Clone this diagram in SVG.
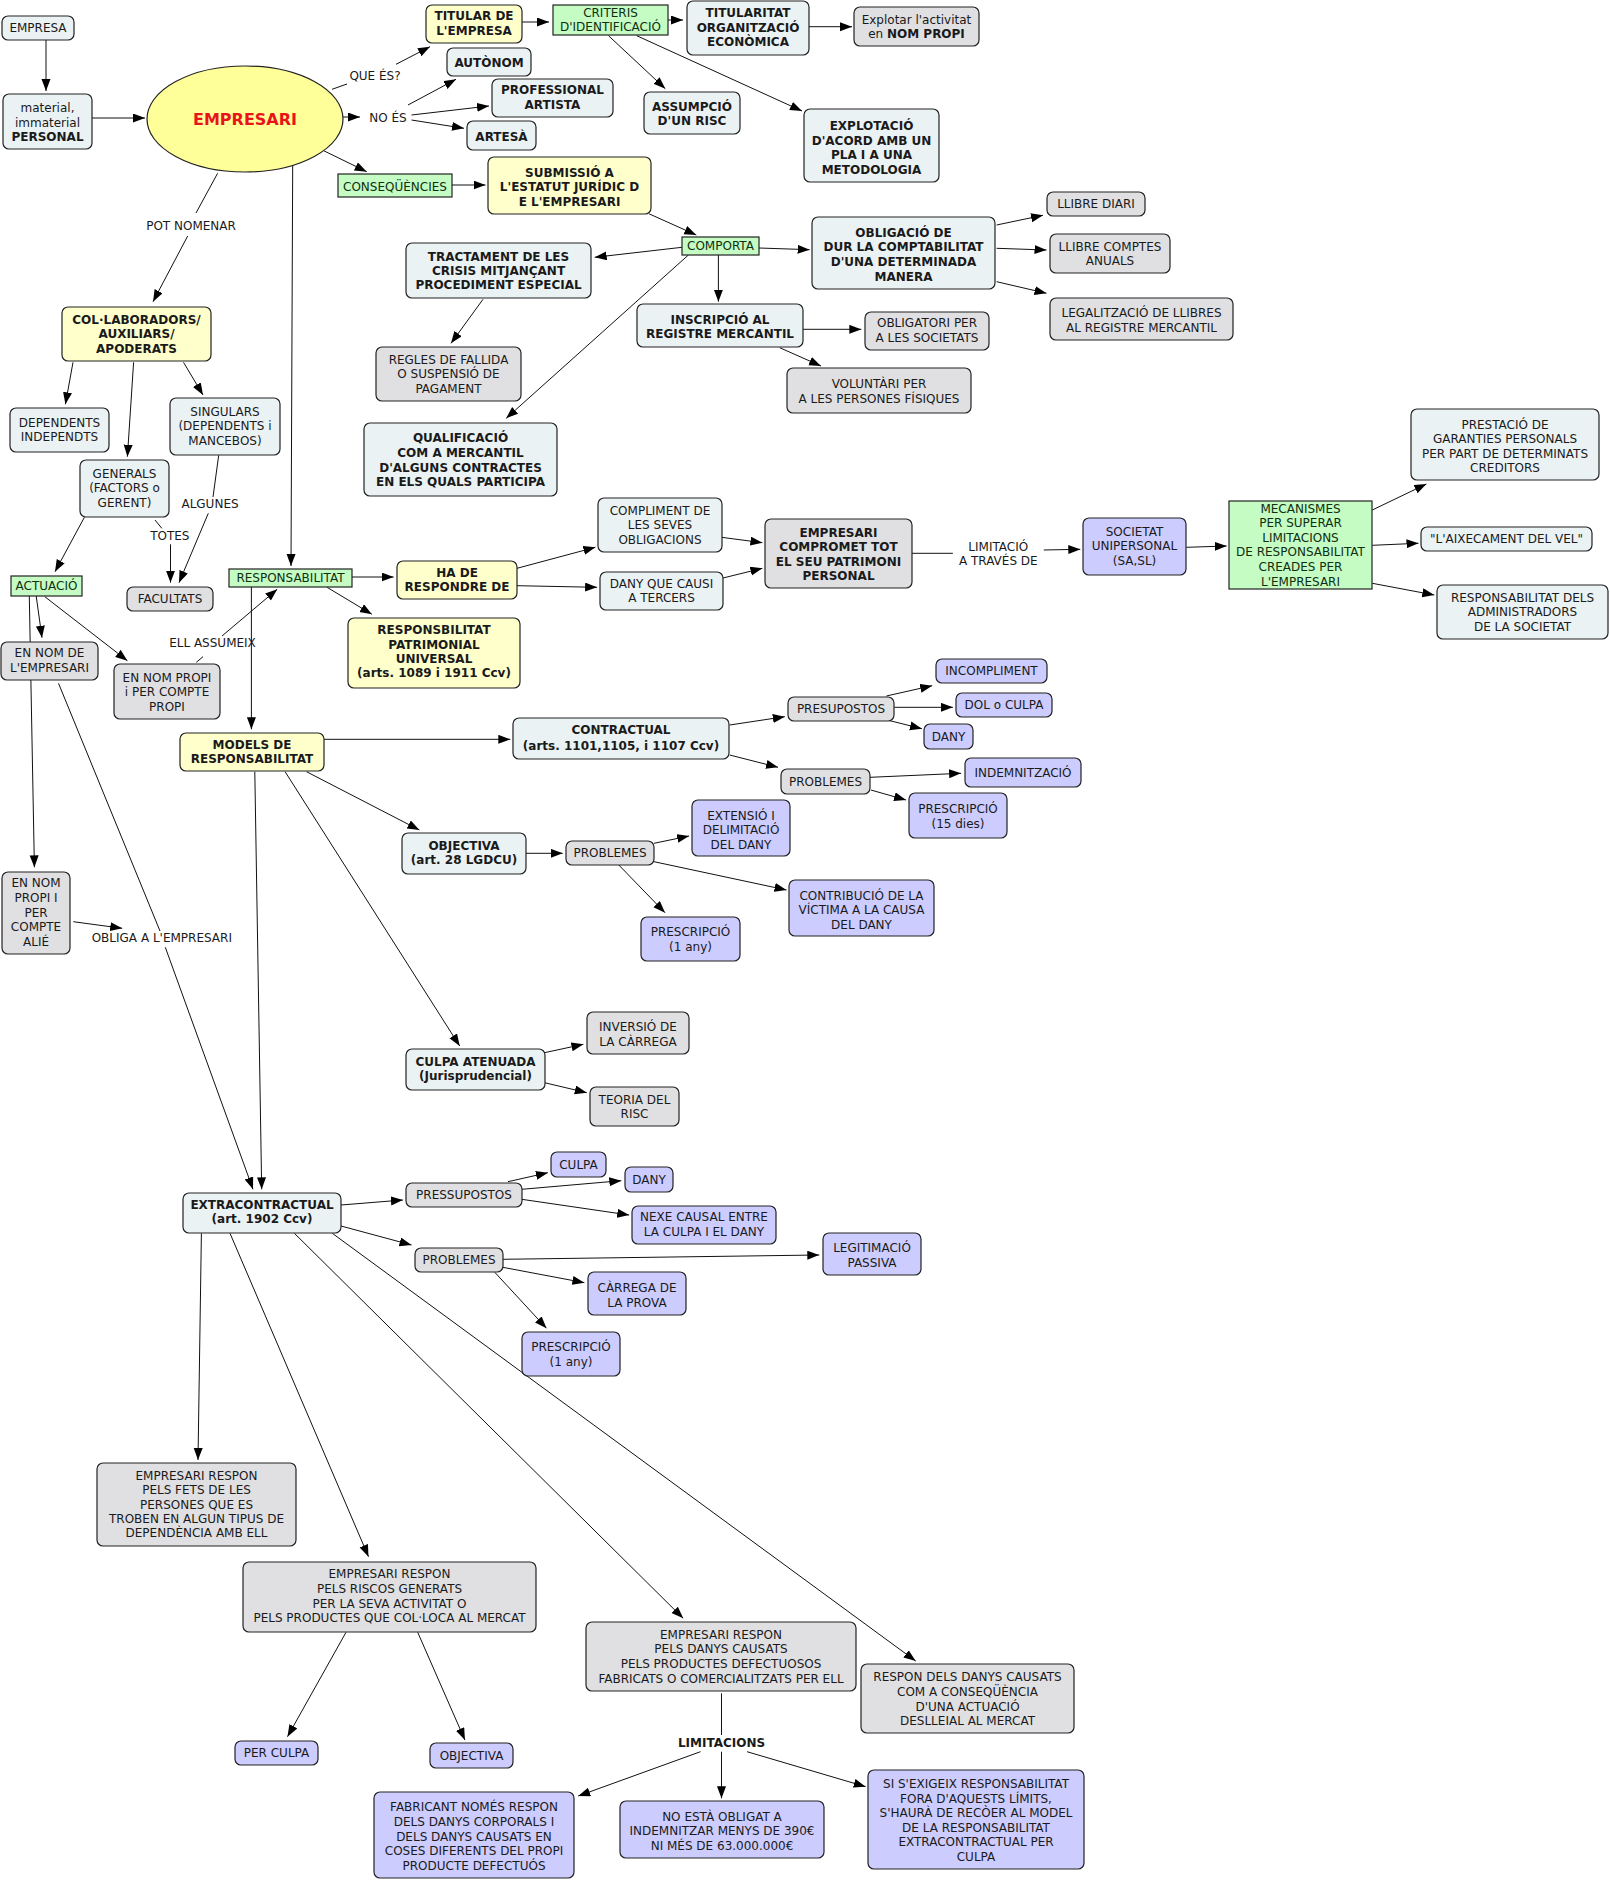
<svg xmlns="http://www.w3.org/2000/svg" width="1610" height="1880" viewBox="0 0 1610 1880">
<defs>
<marker id="ah" markerUnits="userSpaceOnUse" markerWidth="12" markerHeight="10" refX="12" refY="4.5" orient="auto"><path d="M0,0 L12,4.5 L0,9 z" fill="#000"/></marker>
<style>
text{font-family:"DejaVu Sans",Verdana,sans-serif;font-size:12px;fill:#1a1a1a;text-anchor:middle}
.b{font-weight:bold}
.nd rect{stroke:#222;stroke-width:1.2}
.n{fill:#ebf2f4}
.g{fill:#e0e0e3}
.l{fill:#ccccff}
.y{fill:#ffffcc}
.gr{fill:#c4fcc4}
.gt{fill:#0f2f0f}
#connectors line{stroke:#111;stroke-width:1}
#connectors line.a{marker-end:url(#ah)}
</style>
</defs>
<rect x="0" y="0" width="1610" height="1880" fill="#fff"/>
<g id="connectors">
<line class="a" x1="46" y1="40" x2="46" y2="91"/>
<line class="a" x1="92" y1="118" x2="145" y2="118"/>
<line x1="332" y1="89.3" x2="347" y2="84"/>
<line class="a" x1="396" y1="64.3" x2="430" y2="46.7"/>
<line class="a" x1="343" y1="117" x2="360" y2="117"/>
<line class="a" x1="408" y1="105" x2="456" y2="79.3"/>
<line class="a" x1="411.5" y1="115" x2="489" y2="106"/>
<line class="a" x1="411.5" y1="120" x2="464" y2="128.3"/>
<line class="a" x1="323.7" y1="150.7" x2="366.7" y2="171.7"/>
<line class="a" x1="452" y1="185" x2="485.5" y2="185"/>
<line class="a" x1="522" y1="22" x2="549" y2="22"/>
<line class="a" x1="668" y1="20" x2="683" y2="20"/>
<line class="a" x1="809" y1="26.7" x2="852" y2="26.7"/>
<line class="a" x1="608.5" y1="35.7" x2="665.3" y2="88.7"/>
<line class="a" x1="636.7" y1="35.7" x2="802" y2="111"/>
<line class="a" x1="648.8" y1="213.7" x2="696.3" y2="235"/>
<line class="a" x1="682" y1="247.3" x2="594.7" y2="257.3"/>
<line class="a" x1="759" y1="248" x2="809.6" y2="249.7"/>
<line class="a" x1="718.4" y1="255" x2="718.4" y2="301.7"/>
<line class="a" x1="688.4" y1="255" x2="506.2" y2="418.3"/>
<line class="a" x1="996.6" y1="225" x2="1043" y2="215.3"/>
<line class="a" x1="996.6" y1="248.3" x2="1046.5" y2="250"/>
<line class="a" x1="996.6" y1="281.7" x2="1046.5" y2="293.3"/>
<line class="a" x1="803" y1="329.3" x2="861.3" y2="329.3"/>
<line class="a" x1="779.7" y1="347.7" x2="821" y2="366"/>
<line class="a" x1="483" y1="299.3" x2="451" y2="343.3"/>
<line x1="217.6" y1="173.3" x2="196" y2="213"/>
<line class="a" x1="187.7" y1="236" x2="153" y2="301.7"/>
<line class="a" x1="73" y1="362.3" x2="65.4" y2="404.3"/>
<line class="a" x1="133.6" y1="362.3" x2="127.4" y2="456.7"/>
<line class="a" x1="183.5" y1="362.3" x2="203" y2="395"/>
<line x1="218.7" y1="455.3" x2="213" y2="497"/>
<line class="a" x1="208.3" y1="513.3" x2="179" y2="582.7"/>
<line x1="155" y1="520" x2="161.8" y2="528.3"/>
<line class="a" x1="170.5" y1="544.3" x2="170.5" y2="582.7"/>
<line class="a" x1="84.4" y1="517.3" x2="55" y2="571.7"/>
<line class="a" x1="36.2" y1="596" x2="42" y2="637.7"/>
<line class="a" x1="44.8" y1="596.7" x2="127.4" y2="660.7"/>
<line class="a" x1="29.3" y1="596" x2="34.4" y2="867.3"/>
<line class="a" x1="292.7" y1="165.3" x2="291" y2="566"/>
<line x1="196.3" y1="662.3" x2="203" y2="656.7"/>
<line class="a" x1="222" y1="636" x2="277.2" y2="589.3"/>
<line class="a" x1="352" y1="577" x2="393.6" y2="577"/>
<line class="a" x1="327.1" y1="587.3" x2="371.9" y2="614.3"/>
<line class="a" x1="251.4" y1="587" x2="251.4" y2="729.3"/>
<line class="a" x1="517" y1="568.3" x2="595.4" y2="547.3"/>
<line class="a" x1="517" y1="585.7" x2="597.1" y2="587.3"/>
<line class="a" x1="721.5" y1="537.3" x2="762.4" y2="542.7"/>
<line class="a" x1="723" y1="578" x2="762.4" y2="568.3"/>
<line x1="912" y1="553.3" x2="952.9" y2="553.3"/>
<line class="a" x1="1043.8" y1="550" x2="1080.3" y2="549.3"/>
<line class="a" x1="1186.4" y1="547.3" x2="1226.7" y2="546"/>
<line class="a" x1="1372.3" y1="510" x2="1426.4" y2="484"/>
<line class="a" x1="1372.3" y1="545.3" x2="1418.5" y2="543.3"/>
<line class="a" x1="1372.3" y1="583.3" x2="1434.3" y2="595"/>
<line class="a" x1="324" y1="739.3" x2="510.3" y2="739.3"/>
<line class="a" x1="306.5" y1="771.7" x2="419.4" y2="830"/>
<line class="a" x1="285.1" y1="771.7" x2="459.7" y2="1046"/>
<line class="a" x1="254.8" y1="771.7" x2="261.7" y2="1189.3"/>
<line class="a" x1="729.7" y1="725" x2="784.8" y2="716.7"/>
<line class="a" x1="729.7" y1="755" x2="778" y2="767.3"/>
<line class="a" x1="886.4" y1="696" x2="932.2" y2="685.7"/>
<line class="a" x1="894.3" y1="707.3" x2="952.9" y2="707.3"/>
<line class="a" x1="889.9" y1="720.7" x2="921.9" y2="728.7"/>
<line class="a" x1="870.2" y1="777.3" x2="961.1" y2="773.3"/>
<line class="a" x1="870.9" y1="790" x2="906" y2="800"/>
<line class="a" x1="526" y1="853.3" x2="562.7" y2="853.3"/>
<line class="a" x1="654" y1="843.3" x2="689.1" y2="836"/>
<line class="a" x1="654" y1="861.7" x2="786.5" y2="890"/>
<line class="a" x1="618.8" y1="865" x2="665" y2="912.7"/>
<line class="a" x1="544.5" y1="1052.7" x2="583.4" y2="1044.3"/>
<line class="a" x1="544.5" y1="1082.7" x2="586.8" y2="1092.7"/>
<line class="a" x1="73.3" y1="921.7" x2="122.2" y2="928.3"/>
<line x1="58.5" y1="683.3" x2="160" y2="931"/>
<line class="a" x1="165.3" y1="947.3" x2="253" y2="1189.3"/>
<line class="a" x1="341" y1="1205" x2="402.9" y2="1200"/>
<line class="a" x1="341" y1="1226" x2="411.5" y2="1245"/>
<line class="a" x1="508" y1="1181.7" x2="547.9" y2="1172.7"/>
<line class="a" x1="521.7" y1="1189.3" x2="621.3" y2="1180.7"/>
<line class="a" x1="521.7" y1="1199.3" x2="629.2" y2="1215"/>
<line class="a" x1="502.8" y1="1259.3" x2="819.3" y2="1255"/>
<line class="a" x1="502.8" y1="1267.3" x2="584.4" y2="1282.7"/>
<line class="a" x1="494.8" y1="1272.3" x2="546.5" y2="1328.3"/>
<line class="a" x1="201.4" y1="1233.3" x2="198" y2="1460"/>
<line class="a" x1="230" y1="1233.3" x2="368.5" y2="1556.7"/>
<line class="a" x1="294.4" y1="1233.3" x2="683.2" y2="1618.3"/>
<line class="a" x1="332.3" y1="1233.3" x2="915.7" y2="1661"/>
<line class="a" x1="346" y1="1632.3" x2="287.5" y2="1736.7"/>
<line class="a" x1="417.7" y1="1632.3" x2="464.9" y2="1740"/>
<line x1="721.5" y1="1693.3" x2="721.5" y2="1735"/>
<line class="a" x1="700.5" y1="1751.7" x2="578.2" y2="1796"/>
<line class="a" x1="721.5" y1="1751.7" x2="721.5" y2="1798.3"/>
<line class="a" x1="747" y1="1751.7" x2="865.7" y2="1786.7"/>
</g>
<g id="labels">
<text x="375" y="79.7">QUE ÉS?</text>
<text x="388" y="121.7">NO ÉS</text>
<text x="191" y="229.7">POT NOMENAR</text>
<text x="210" y="508.3">ALGUNES</text>
<text x="169.8" y="539.7">TOTES</text>
<text x="212.5" y="647.3">ELL ASSUMEIX</text>
<text x="161.8" y="942.3">OBLIGA A L'EMPRESARI</text>
<text x="998.3"><tspan x="998.3" y="550.7">LIMITACIÓ</tspan><tspan x="998.3" y="565">A TRAVÉS DE</tspan></text>
<text class="b" x="721.5" y="1746.7">LIMITACIONS</text>
</g>
<g class="nd">
<g id="empresa"><rect class="n" x="2" y="16" width="72" height="24" rx="6"/><text x="38" y="32">EMPRESA</text></g>
<g id="material"><rect class="n" x="3" y="94" width="89" height="55" rx="6"/><text><tspan x="47.5" y="112.3">material,</tspan><tspan x="47.5" y="126.7">immaterial</tspan><tspan class="b" x="47.5" y="141">PERSONAL</tspan></text></g>
<g id="empresari"><ellipse cx="245" cy="119" rx="98" ry="53" fill="#ffff99" stroke="#222" stroke-width="1.2"/><text class="b" x="245" y="125" style="font-size:16px;fill:#e8141a">EMPRESARI</text></g>
<g id="titular"><rect class="y" x="426" y="5" width="96" height="38" rx="6"/><text class="b"><tspan x="474" y="20.3">TITULAR DE</tspan><tspan x="474" y="35">L'EMPRESA</tspan></text></g>
<g id="autonom"><rect class="n" x="447" y="48" width="84" height="28" rx="6"/><text class="b" x="489" y="67.3">AUTÒNOM</text></g>
<g id="professional"><rect class="n" x="492" y="79" width="121" height="38" rx="6"/><text class="b"><tspan x="552.5" y="94.3">PROFESSIONAL</tspan><tspan x="552.5" y="109">ARTISTA</tspan></text></g>
<g id="artesa"><rect class="n" x="467" y="121" width="69" height="29" rx="6"/><text class="b" x="501.5" y="141.3">ARTESÀ</text></g>
<g id="consequencies"><rect class="gr" x="338" y="174" width="114" height="23"/><text class="gt" x="395" y="190.7">CONSEQÜÈNCIES</text></g>
<g id="submissio"><rect class="y" x="488" y="157" width="163" height="57" rx="6"/><text class="b"><tspan x="569.5" y="176.7">SUBMISSIÓ A</tspan><tspan x="569.5" y="191.3">L'ESTATUT JURÍDIC D</tspan><tspan x="569.5" y="205.7">E L'EMPRESARI</tspan></text></g>
<g id="col"><rect class="y" x="62" y="307" width="149" height="54" rx="6"/><text class="b"><tspan x="136.5" y="324">COL·LABORADORS/</tspan><tspan x="136.5" y="338.3">AUXILIARS/</tspan><tspan x="136.5" y="352.7">APODERATS</tspan></text></g>
<g id="dependents"><rect class="n" x="10" y="408" width="99" height="44" rx="6"/><text><tspan x="59.5" y="426.7">DEPENDENTS</tspan><tspan x="59.5" y="441">INDEPENDTS</tspan></text></g>
<g id="singulars"><rect class="n" x="170" y="398" width="110" height="57" rx="6"/><text><tspan x="225" y="415.7">SINGULARS</tspan><tspan x="225" y="430">(DEPENDENTS i</tspan><tspan x="225" y="444.7">MANCEBOS)</tspan></text></g>
<g id="tractament"><rect class="n" x="406" y="243" width="185" height="55" rx="6"/><text class="b"><tspan x="498.5" y="260.7">TRACTAMENT DE LES</tspan><tspan x="498.5" y="275">CRISIS MITJANÇANT</tspan><tspan x="498.5" y="289.3">PROCEDIMENT ESPECIAL</tspan></text></g>
<g id="regles"><rect class="g" x="376" y="347" width="145" height="54" rx="6"/><text><tspan x="448.5" y="363.7">REGLES DE FALLIDA</tspan><tspan x="448.5" y="378">O SUSPENSIÓ DE</tspan><tspan x="448.5" y="392.7">PAGAMENT</tspan></text></g>
<g id="qualificacio"><rect class="n" x="364" y="423" width="193" height="73" rx="6"/><text class="b"><tspan x="460.5" y="442.3">QUALIFICACIÓ</tspan><tspan x="460.5" y="457">COM A MERCANTIL</tspan><tspan x="460.5" y="471.7">D'ALGUNS CONTRACTES</tspan><tspan x="460.5" y="486.4">EN ELS QUALS PARTICIPA</tspan></text></g>
<g id="criteris"><rect class="gr" x="553" y="5" width="115" height="30"/><text class="gt"><tspan x="610.5" y="16.7">CRITERIS</tspan><tspan x="610.5" y="30.7">D'IDENTIFICACIÓ</tspan></text></g>
<g id="titularitat"><rect class="n" x="687" y="1" width="122" height="54" rx="6"/><text class="b"><tspan x="748" y="17.3">TITULARITAT</tspan><tspan x="748" y="31.7">ORGANITZACIÓ</tspan><tspan x="748" y="46.3">ECONÒMICA</tspan></text></g>
<g id="explotar"><rect class="g" x="854" y="7" width="125" height="39" rx="6"/><text><tspan x="916.5" y="24">Explotar l'activitat</tspan><tspan x="916.5" y="38.3">en <tspan class="b">NOM PROPI</tspan></tspan></text></g>
<g id="assumpcio"><rect class="n" x="644" y="92" width="96" height="42" rx="6"/><text class="b"><tspan x="692" y="110.7">ASSUMPCIÓ</tspan><tspan x="692" y="125.3">D'UN RISC</tspan></text></g>
<g id="explotacio"><rect class="n" x="804" y="109" width="135" height="73" rx="6"/><text class="b"><tspan x="871.5" y="130">EXPLOTACIÓ</tspan><tspan x="871.5" y="144.7">D'ACORD AMB UN</tspan><tspan x="871.5" y="159.3">PLA I A UNA</tspan><tspan x="871.5" y="174">METODOLOGIA</tspan></text></g>
<g id="comporta"><rect class="gr" x="682" y="237" width="77" height="18"/><text class="gt" x="720.5" y="250">COMPORTA</text></g>
<g id="obligacio"><rect class="n" x="812" y="217" width="183" height="72" rx="6"/><text class="b"><tspan x="903.5" y="236.7">OBLIGACIÓ DE</tspan><tspan x="903.5" y="251.3">DUR LA COMPTABILITAT</tspan><tspan x="903.5" y="266">D'UNA DETERMINADA</tspan><tspan x="903.5" y="281">MANERA</tspan></text></g>
<g id="llibre-diari"><rect class="g" x="1047" y="192" width="98" height="24" rx="6"/><text x="1096" y="208">LLIBRE DIARI</text></g>
<g id="llibre-comptes"><rect class="g" x="1050" y="234" width="120" height="39" rx="6"/><text><tspan x="1110" y="250.7">LLIBRE COMPTES</tspan><tspan x="1110" y="265">ANUALS</tspan></text></g>
<g id="legalitzacio"><rect class="g" x="1050" y="298" width="183" height="42" rx="6"/><text><tspan x="1141.5" y="317.3">LEGALITZACIÓ DE LLIBRES</tspan><tspan x="1141.5" y="332.3">AL REGISTRE MERCANTIL</tspan></text></g>
<g id="inscripcio"><rect class="n" x="637" y="304" width="166" height="43" rx="6"/><text class="b"><tspan x="720" y="324">INSCRIPCIÓ AL</tspan><tspan x="720" y="338.3">REGISTRE MERCANTIL</tspan></text></g>
<g id="obligatori"><rect class="g" x="865" y="312" width="124" height="38" rx="6"/><text><tspan x="927" y="327.3">OBLIGATORI PER</tspan><tspan x="927" y="342.3">A LES SOCIETATS</tspan></text></g>
<g id="voluntari"><rect class="g" x="787" y="368" width="184" height="45" rx="6"/><text><tspan x="879" y="388.3">VOLUNTÀRI PER</tspan><tspan x="879" y="403">A LES PERSONES FÍSIQUES</tspan></text></g>
<g id="prestacio"><rect class="n" x="1411" y="409" width="188" height="71" rx="6"/><text><tspan x="1505" y="429">PRESTACIÓ DE</tspan><tspan x="1505" y="443.3">GARANTIES PERSONALS</tspan><tspan x="1505" y="457.7">PER PART DE DETERMINATS</tspan><tspan x="1505" y="472">CREDITORS</tspan></text></g>
<g id="generals"><rect class="n" x="80" y="460" width="89" height="57" rx="6"/><text><tspan x="124.5" y="478">GENERALS</tspan><tspan x="124.5" y="492.3">(FACTORS o</tspan><tspan x="124.5" y="506.7">GERENT)</tspan></text></g>
<g id="facultats"><rect class="g" x="127" y="587" width="86" height="24" rx="6"/><text x="170" y="603">FACULTATS</text></g>
<g id="actuacio"><rect class="gr" x="11" y="576" width="71" height="20"/><text class="gt" x="46.5" y="590">ACTUACIÓ</text></g>
<g id="nom-empresari"><rect class="g" x="1" y="642" width="97" height="38" rx="6"/><text><tspan x="49.5" y="657.3">EN NOM DE</tspan><tspan x="49.5" y="672.3">L'EMPRESARI</tspan></text></g>
<g id="nom-propi"><rect class="g" x="114" y="664" width="106" height="55" rx="6"/><text><tspan x="167" y="681.7">EN NOM PROPI</tspan><tspan x="167" y="696.3">i PER COMPTE</tspan><tspan x="167" y="711">PROPI</tspan></text></g>
<g id="responsabilitat"><rect class="gr" x="229" y="569" width="123" height="18"/><text class="gt" x="290.5" y="582">RESPONSABILITAT</text></g>
<g id="ha-de-respondre"><rect class="y" x="397" y="561" width="120" height="38" rx="6"/><text class="b"><tspan x="457" y="576.7">HA DE</tspan><tspan x="457" y="591">RESPONDRE DE</tspan></text></g>
<g id="patrimonial"><rect class="y" x="348" y="618" width="172" height="70" rx="6"/><text class="b"><tspan x="434" y="634">RESPONSBILITAT</tspan><tspan x="434" y="648.7">PATRIMONIAL</tspan><tspan x="434" y="663">UNIVERSAL</tspan><tspan x="434" y="677.3">(arts. 1089 i 1911 Ccv)</tspan></text></g>
<g id="models"><rect class="y" x="180" y="733" width="144" height="38" rx="6"/><text class="b"><tspan x="252" y="749">MODELS DE</tspan><tspan x="252" y="763.3">RESPONSABILITAT</tspan></text></g>
<g id="objectiva"><rect class="n" x="402" y="833" width="124" height="41" rx="6"/><text class="b"><tspan x="464" y="850">OBJECTIVA</tspan><tspan x="464" y="864">(art. 28 LGDCU)</tspan></text></g>
<g id="nom-alie"><rect class="g" x="2" y="872" width="68" height="82" rx="6"/><text><tspan x="36" y="887.3">EN NOM</tspan><tspan x="36" y="902">PROPI I</tspan><tspan x="36" y="916.7">PER</tspan><tspan x="36" y="931.3">COMPTE</tspan><tspan x="36" y="945.7">ALIÉ</tspan></text></g>
<g id="compliment"><rect class="n" x="598" y="498" width="124" height="54" rx="6"/><text><tspan x="660" y="514.7">COMPLIMENT DE</tspan><tspan x="660" y="529">LES SEVES</tspan><tspan x="660" y="543.7">OBLIGACIONS</tspan></text></g>
<g id="dany-tercers"><rect class="n" x="600" y="572" width="123" height="38" rx="6"/><text><tspan x="661.5" y="588">DANY QUE CAUSI</tspan><tspan x="661.5" y="602">A TERCERS</tspan></text></g>
<g id="compromet"><rect class="g" x="765" y="519" width="147" height="69" rx="6"/><text class="b"><tspan x="838.5" y="536.7">EMPRESARI</tspan><tspan x="838.5" y="551">COMPROMET TOT</tspan><tspan x="838.5" y="565.7">EL SEU PATRIMONI</tspan><tspan x="838.5" y="580">PERSONAL</tspan></text></g>
<g id="societat"><rect class="l" x="1083" y="518" width="103" height="57" rx="6"/><text><tspan x="1134.5" y="535.7">SOCIETAT</tspan><tspan x="1134.5" y="550.3">UNIPERSONAL</tspan><tspan x="1134.5" y="565">(SA,SL)</tspan></text></g>
<g id="mecanismes"><rect class="gr" x="1229" y="501" width="143" height="88"/><text class="gt"><tspan x="1300.5" y="512.7">MECANISMES</tspan><tspan x="1300.5" y="527">PER SUPERAR</tspan><tspan x="1300.5" y="541.7">LIMITACIONS</tspan><tspan x="1300.5" y="556.3">DE RESPONSABILITAT</tspan><tspan x="1300.5" y="571">CREADES PER</tspan><tspan x="1300.5" y="585.7">L'EMPRESARI</tspan></text></g>
<g id="aixecament"><rect class="n" x="1421" y="527" width="171" height="24" rx="6"/><text x="1506.5" y="543">"L'AIXECAMENT DEL VEL"</text></g>
<g id="administradors"><rect class="n" x="1437" y="585" width="171" height="54" rx="6"/><text><tspan x="1522.5" y="601.7">RESPONSABILITAT DELS</tspan><tspan x="1522.5" y="616">ADMINISTRADORS</tspan><tspan x="1522.5" y="630.7">DE LA SOCIETAT</tspan></text></g>
<g id="contractual"><rect class="n" x="513" y="718" width="216" height="41" rx="6"/><text class="b"><tspan x="621" y="734">CONTRACTUAL</tspan><tspan x="621" y="749.7">(arts. 1101,1105, i 1107 Ccv)</tspan></text></g>
<g id="presupostos"><rect class="g" x="788" y="697" width="106" height="24" rx="6"/><text x="841" y="713">PRESUPOSTOS</text></g>
<g id="incompliment"><rect class="l" x="936" y="659" width="111" height="24" rx="6"/><text x="991.5" y="675">INCOMPLIMENT</text></g>
<g id="dol"><rect class="l" x="956" y="693" width="96" height="24" rx="6"/><text x="1004" y="709">DOL o CULPA</text></g>
<g id="dany-c"><rect class="l" x="924" y="724" width="49" height="25" rx="6"/><text x="948.5" y="741">DANY</text></g>
<g id="problemes-c"><rect class="g" x="781" y="769" width="89" height="25" rx="6"/><text x="825.5" y="785.7">PROBLEMES</text></g>
<g id="indemnitzacio"><rect class="l" x="965" y="758" width="116" height="29" rx="6"/><text x="1023" y="777.3">INDEMNITZACIÓ</text></g>
<g id="prescripcio-c"><rect class="l" x="909" y="793" width="98" height="45" rx="6"/><text><tspan x="958" y="813.3">PRESCRIPCIÓ</tspan><tspan x="958" y="828">(15 dies)</tspan></text></g>
<g id="problemes-o"><rect class="g" x="566" y="841" width="88" height="24" rx="6"/><text x="610" y="857">PROBLEMES</text></g>
<g id="extensio"><rect class="l" x="692" y="800" width="98" height="56" rx="6"/><text><tspan x="741" y="820">EXTENSIÓ I</tspan><tspan x="741" y="834.3">DELIMITACIÓ</tspan><tspan x="741" y="849">DEL DANY</tspan></text></g>
<g id="contribucio"><rect class="l" x="789" y="880" width="145" height="56" rx="6"/><text><tspan x="861.5" y="899.7">CONTRIBUCIÓ DE LA</tspan><tspan x="861.5" y="914">VÍCTIMA A LA CAUSA</tspan><tspan x="861.5" y="929">DEL DANY</tspan></text></g>
<g id="prescripcio-o"><rect class="l" x="641" y="917" width="99" height="44" rx="6"/><text><tspan x="690.5" y="935.7">PRESCRIPCIÓ</tspan><tspan x="690.5" y="950.7">(1 any)</tspan></text></g>
<g id="culpa-atenuada"><rect class="n" x="406" y="1049" width="139" height="41" rx="6"/><text class="b"><tspan x="475.5" y="1065.7">CULPA ATENUADA</tspan><tspan x="475.5" y="1080">(Jurisprudencial)</tspan></text></g>
<g id="inversio"><rect class="g" x="587" y="1012" width="102" height="42" rx="6"/><text><tspan x="638" y="1031.3">INVERSIÓ DE</tspan><tspan x="638" y="1046">LA CÀRREGA</tspan></text></g>
<g id="teoria"><rect class="g" x="590" y="1087" width="89" height="39" rx="6"/><text><tspan x="634.5" y="1104">TEORIA DEL</tspan><tspan x="634.5" y="1118">RISC</tspan></text></g>
<g id="extracontractual"><rect class="n" x="183" y="1193" width="158" height="40" rx="6"/><text class="b"><tspan x="262" y="1209">EXTRACONTRACTUAL</tspan><tspan x="262" y="1223.3">(art. 1902 Ccv)</tspan></text></g>
<g id="pressupostos"><rect class="g" x="406" y="1183" width="116" height="24" rx="6"/><text x="464" y="1199">PRESSUPOSTOS</text></g>
<g id="culpa"><rect class="l" x="551" y="1152" width="55" height="25" rx="6"/><text x="578.5" y="1168.5">CULPA</text></g>
<g id="dany-e"><rect class="l" x="625" y="1167" width="48" height="25" rx="6"/><text x="649" y="1183.5">DANY</text></g>
<g id="nexe"><rect class="l" x="632" y="1206" width="144" height="38" rx="6"/><text><tspan x="704" y="1221.3">NEXE CAUSAL ENTRE</tspan><tspan x="704" y="1236.3">LA CULPA I EL DANY</tspan></text></g>
<g id="problemes-e"><rect class="g" x="415" y="1248" width="88" height="24" rx="6"/><text x="459" y="1264">PROBLEMES</text></g>
<g id="legitimacio"><rect class="l" x="823" y="1233" width="98" height="42" rx="6"/><text><tspan x="872" y="1252.3">LEGITIMACIÓ</tspan><tspan x="872" y="1266.7">PASSIVA</tspan></text></g>
<g id="carrega"><rect class="l" x="588" y="1272" width="98" height="43" rx="6"/><text><tspan x="637" y="1292.3">CÀRREGA DE</tspan><tspan x="637" y="1306.7">LA PROVA</tspan></text></g>
<g id="prescripcio-e"><rect class="l" x="522" y="1332" width="98" height="44" rx="6"/><text><tspan x="571" y="1351.3">PRESCRIPCIÓ</tspan><tspan x="571" y="1366.3">(1 any)</tspan></text></g>
<g id="fets"><rect class="g" x="97" y="1463" width="199" height="83" rx="6"/><text><tspan x="196.5" y="1480">EMPRESARI RESPON</tspan><tspan x="196.5" y="1494.3">PELS FETS DE LES</tspan><tspan x="196.5" y="1508.7">PERSONES QUE ES</tspan><tspan x="196.5" y="1523">TROBEN EN ALGUN TIPUS DE</tspan><tspan x="196.5" y="1537.3">DEPENDÈNCIA AMB ELL</tspan></text></g>
<g id="riscos"><rect class="g" x="243" y="1562" width="293" height="70" rx="6"/><text><tspan x="389.5" y="1578.3">EMPRESARI RESPON</tspan><tspan x="389.5" y="1593">PELS RISCOS GENERATS</tspan><tspan x="389.5" y="1607.7">PER LA SEVA ACTIVITAT O</tspan><tspan x="389.5" y="1622.3">PELS PRODUCTES QUE COL·LOCA AL MERCAT</tspan></text></g>
<g id="per-culpa"><rect class="l" x="235" y="1741" width="83" height="24" rx="6"/><text x="276.5" y="1757">PER CULPA</text></g>
<g id="objectiva-b"><rect class="l" x="430" y="1743" width="83" height="25" rx="6"/><text x="471.5" y="1760">OBJECTIVA</text></g>
<g id="fabricant"><rect class="l" x="374" y="1792" width="200" height="86" rx="6"/><text><tspan x="474" y="1811.3">FABRICANT NOMÉS RESPON</tspan><tspan x="474" y="1826">DELS DANYS CORPORALS I</tspan><tspan x="474" y="1840.7">DELS DANYS CAUSATS EN</tspan><tspan x="474" y="1855.3">COSES DIFERENTS DEL PROPI</tspan><tspan x="474" y="1869.7">PRODUCTE DEFECTUÓS</tspan></text></g>
<g id="danys-productes"><rect class="g" x="586" y="1622" width="270" height="69" rx="6"/><text><tspan x="721" y="1639">EMPRESARI RESPON</tspan><tspan x="721" y="1653.3">PELS DANYS CAUSATS</tspan><tspan x="721" y="1668.3">PELS PRODUCTES DEFECTUOSOS</tspan><tspan x="721" y="1682.7">FABRICATS O COMERCIALITZATS PER ELL</tspan></text></g>
<g id="deslleial"><rect class="g" x="861" y="1664" width="213" height="69" rx="6"/><text><tspan x="967.5" y="1681.3">RESPON DELS DANYS CAUSATS</tspan><tspan x="967.5" y="1696">COM A CONSEQÜÈNCIA</tspan><tspan x="967.5" y="1710.7">D'UNA ACTUACIÓ</tspan><tspan x="967.5" y="1725.3">DESLLEIAL AL MERCAT</tspan></text></g>
<g id="no-esta"><rect class="l" x="620" y="1801" width="204" height="57" rx="6"/><text><tspan x="722" y="1820.7">NO ESTÀ OBLIGAT A</tspan><tspan x="722" y="1835.3">INDEMNITZAR MENYS DE 390€</tspan><tspan x="722" y="1850">NI MÉS DE 63.000.000€</tspan></text></g>
<g id="si-exigeix"><rect class="l" x="868" y="1770" width="216" height="99" rx="6"/><text><tspan x="976" y="1788">SI S'EXIGEIX RESPONSABILITAT</tspan><tspan x="976" y="1802.7">FORA D'AQUESTS LÍMITS,</tspan><tspan x="976" y="1817.3">S'HAURÀ DE RECÒER AL MODEL</tspan><tspan x="976" y="1831.7">DE LA RESPONSABILITAT</tspan><tspan x="976" y="1846.3">EXTRACONTRACTUAL PER</tspan><tspan x="976" y="1861">CULPA</tspan></text></g>
</g>
</svg>
